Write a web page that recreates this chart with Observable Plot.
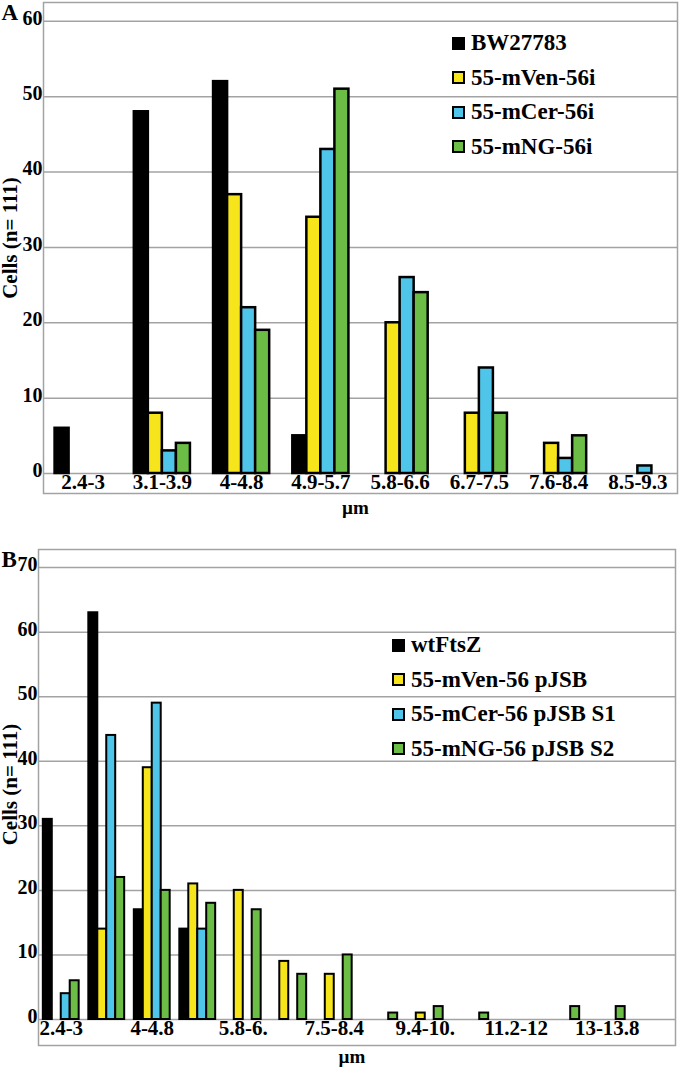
<!DOCTYPE html>
<html><head><meta charset="utf-8">
<script src="https://cdn.jsdelivr.net/npm/d3@7"></script>
<script src="https://cdn.jsdelivr.net/npm/@observablehq/plot@0.6"></script>
<style>
body{margin:0;background:#fff;}
#wrap{position:relative;width:680px;height:1068px;font-family:"Liberation Serif","Times New Roman",serif;font-weight:bold;color:#000;}
.panel{position:absolute;left:0;}
.panel text{font-family:"Liberation Serif","Times New Roman",serif;font-weight:bold;}
.legend{position:absolute;}
.legend .row{display:flex;align-items:center;height:34.5px;font-size:23px;white-space:nowrap;}
.sw{width:9px;height:9px;border:2px solid #000;margin-right:6px;box-sizing:content-box;}
</style></head><body><div id="wrap"></div>
<script>
// ---- Panel A data ----
const catsA = ["2.4-3","3.1-3.9","4-4.8","4.9-5.7","5.8-6.6","6.7-7.5","7.6-8.4","8.5-9.3"];
const seriesA = ["BW27783","55-mVen-56i","55-mCer-56i","55-mNG-56i"];
const bw27783 = [6,48,52,5,0,0,0,0];
const mVen56i = [0,8,37,34,20,8,4,0];
const mCer56i = [0,3,22,43,26,14,2,1];
const mNG56i  = [0,4,19,51,24,8,5,0];
const yTicksA = [0,10,20,30,40,50,60];

// ---- Panel B data ----
const catsB = ["2.4-3","3.1-3.9","4-4.8","4.9-5.7","5.8-6.","6.7-7.5","7.5-8.4","8.5-9.3","9.4-10.","10.3-11.1","11.2-12","12.1-12.9","13-13.8","13.9-14.7"];
const shownB = ["2.4-3","4-4.8","5.8-6.","7.5-8.4","9.4-10.","11.2-12","13-13.8"];
const seriesB = ["wtFtsZ","55-mVen-56 pJSB","55-mCer-56 pJSB S1","55-mNG-56 pJSB S2"];
const wtFtsZ   = [31,63,17,14,0,0,0,0,0,0,0,0,0,0];
const mVenPJSB = [0,14,39,21,20,9,7,0,1,0,0,0,0,0];
const mCerS1   = [4,44,49,14,0,0,0,0,0,0,0,0,0,0];
const mNGS2    = [6,22,20,18,17,7,10,1,2,1,0,2,2,0];
const yTicksB = [0,10,20,30,40,50,60,70];

const colors = ["#000000","#f7e51c","#4fc5ea","#6bbd46"];
const yLabel = "Cells (n= 111)";
const xLabel = "µm";

function panel(o) {
  const rows = [];
  o.series.forEach((s, j) => o.values[j].forEach((v, i) => { if (v > 0) rows.push({i, j, s, v}); }));
  const n = o.cats.length;
  const w = o.barFrac;
  return Plot.plot({
    width: 680, height: o.height,
    marginLeft: o.ml, marginRight: o.mr, marginTop: o.mt, marginBottom: o.mb,
    style: {fontFamily: "Liberation Serif, serif", fontWeight: "bold", fontSize: "18px", background: "white", color: "#000", overflow: "visible"},
    x: {domain: [-0.5, n - 0.5], axis: null},
    y: {domain: [0, o.yMax], axis: null},
    color: {domain: o.series, range: colors},
    marks: [
      Plot.ruleY(o.yTicks, {stroke: "#a3a3a3", strokeWidth: 1.5}),
      Plot.frame({stroke: "#a3a3a3", strokeWidth: 1.5, insetBottom: -o.frameExt}),
      Plot.rect(rows, {
        x1: d => d.i + (d.j - 2) * w,
        x2: d => d.i + (d.j - 1) * w,
        y1: 0, y2: "v",
        fill: "s", stroke: "#000", strokeWidth: o.sw
      }),
      // y tick labels
      Plot.text(o.yTicks, {y: d => d, frameAnchor: "left", textAnchor: "end", lineAnchor: "middle", dx: -1, dy: -3, text: d => String(d), fontSize: 20}),
      // x tick labels
      Plot.text(o.xTicks, {x: d => d, frameAnchor: "bottom", textAnchor: "middle", lineAnchor: "top", dy: 1, text: i => o.cats[i], fontSize: 21}),
      Plot.text([o.letter], {frameAnchor: "top-left", dx: -o.ml + 1, dy: 1, fontSize: 23, textAnchor: "start", lineAnchor: "top"}),
      Plot.text([yLabel], {frameAnchor: "left", rotate: -90, textAnchor: "middle", lineAnchor: "middle", dx: o.ylx, fontSize: 21}),
      Plot.text([xLabel], {frameAnchor: "bottom", textAnchor: "middle", lineAnchor: "middle", dx: -5, dy: o.xly, fontSize: 19})
    ]
  });
}

function legend(series, left, top) {
  const div = document.createElement("div");
  div.className = "legend";
  div.style.left = left + "px";
  div.style.top = top + "px";
  series.forEach((s, j) => {
    const r = document.createElement("div");
    r.className = "row";
    const sw = document.createElement("span");
    sw.className = "sw";
    sw.style.background = colors[j];
    const t = document.createElement("span");
    t.textContent = s;
    r.appendChild(sw); r.appendChild(t);
    div.appendChild(r);
  });
  return div;
}

const wrap = document.getElementById("wrap");

const pA = panel({
  cats: catsA, series: seriesA, values: [bw27783, mVen56i, mCer56i, mNG56i],
  yTicks: yTicksA, xTicks: d3.range(catsA.length), yMax: 62.5,
  height: 520, ml: 43, mr: 3, mt: 2, mb: 47, frameExt: 20,
  barFrac: 0.177, sw: 2.5, letter: "A", ylx: -33, xly: 34
});
pA.classList.add("panel"); pA.style.top = "0px";
wrap.appendChild(pA);

const pB = panel({
  cats: catsB, series: seriesB, values: [wtFtsZ, mVenPJSB, mCerS1, mNGS2],
  yTicks: yTicksB, xTicks: shownB.map(s => catsB.indexOf(s)), yMax: 72.8,
  height: 548, ml: 38, mr: 5, mt: 29, mb: 49, frameExt: 26,
  barFrac: 0.197, sw: 2, letter: "B", ylx: -28, xly: 37
});
pB.classList.add("panel"); pB.style.top = "520px";
wrap.appendChild(pB);

wrap.appendChild(legend(seriesA, 452, 26));
wrap.appendChild(legend(seriesB, 392, 628));
</script>
</body></html>
